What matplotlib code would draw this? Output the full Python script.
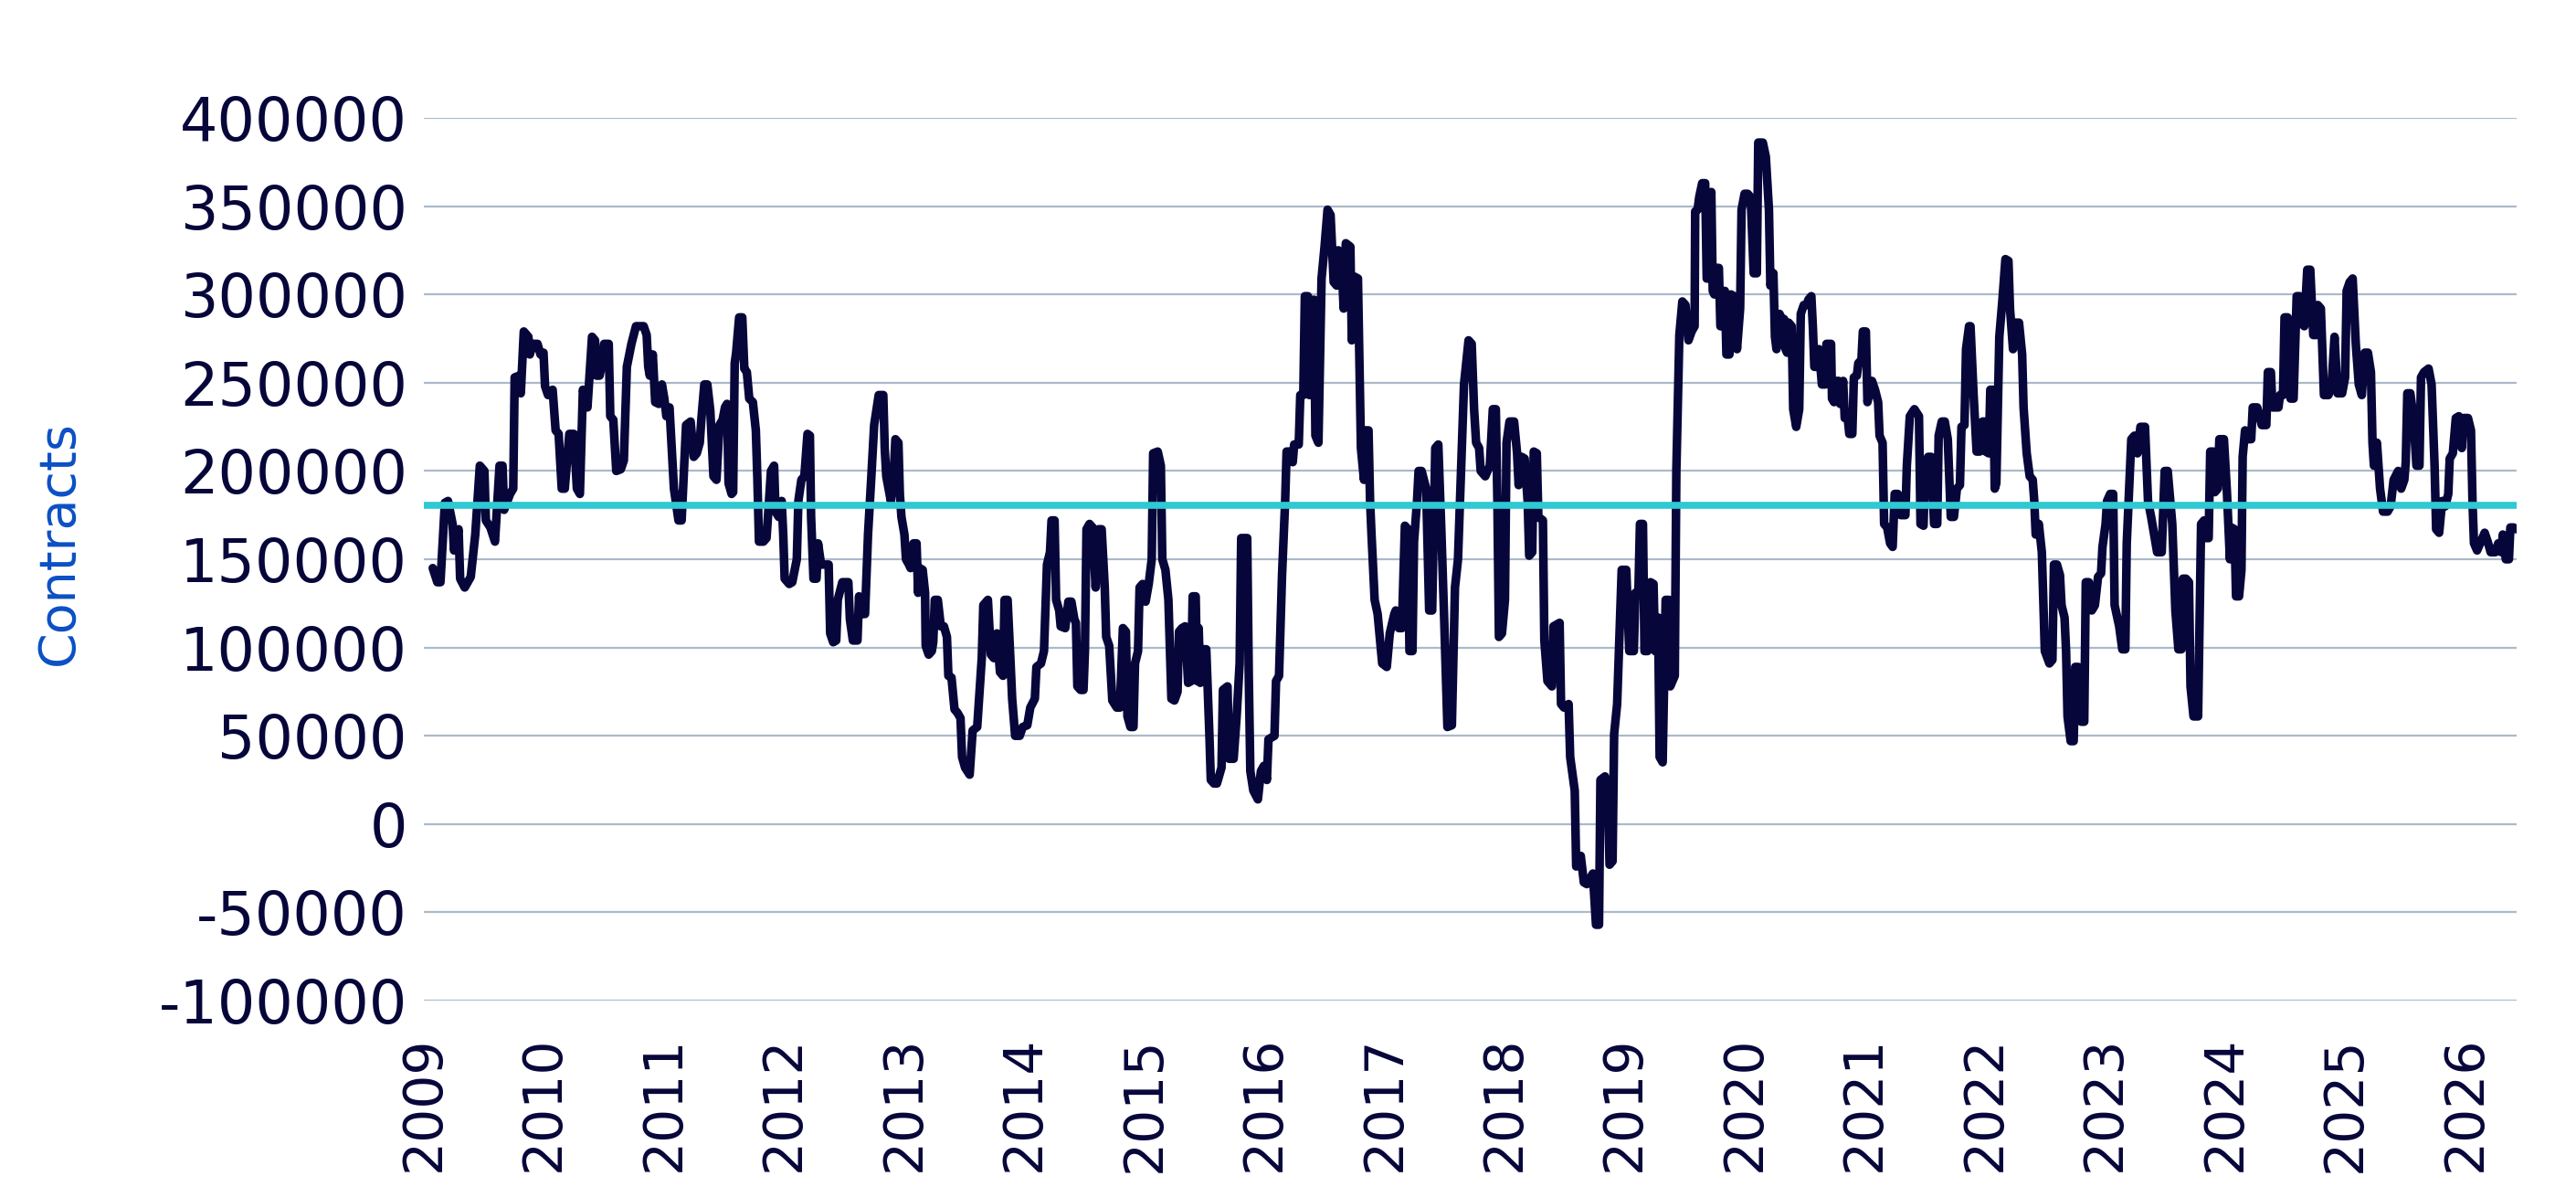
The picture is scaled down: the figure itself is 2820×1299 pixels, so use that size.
import numpy as np
import matplotlib
matplotlib.use("Agg")
import matplotlib.pyplot as plt
from matplotlib.ticker import FuncFormatter

# weekly net positioning (decimal year, thousands of contracts)
week = [
    2009.075, 2009.113, 2009.139, 2009.176, 2009.202, 2009.240, 2009.252, 2009.290, 2009.303, 2009.341,
    2009.391, 2009.429, 2009.467, 2009.505, 2009.517, 2009.555, 2009.593, 2009.631, 2009.656, 2009.669,
    2009.719, 2009.745, 2009.757, 2009.795, 2009.808, 2009.833, 2009.871, 2009.883, 2009.909, 2009.947,
    2009.972, 2009.997, 2010.010, 2010.035, 2010.073, 2010.098, 2010.123, 2010.149, 2010.174, 2010.212,
    2010.250, 2010.275, 2010.300, 2010.325, 2010.363, 2010.401, 2010.426, 2010.439, 2010.464, 2010.489,
    2010.502, 2010.540, 2010.553, 2010.578, 2010.603, 2010.641, 2010.666, 2010.691, 2010.729, 2010.767,
    # 2010 Q4 - 2012 H1
    2010.793, 2010.831, 2010.856, 2010.869, 2010.882, 2010.907, 2010.927, 2010.957, 2010.983, 2011.003,
    2011.020, 2011.046, 2011.083, 2011.121, 2011.147, 2011.184, 2011.222, 2011.248, 2011.273, 2011.298,
    2011.311, 2011.336, 2011.361, 2011.386, 2011.412, 2011.437, 2011.462, 2011.488, 2011.508, 2011.525,
    2011.538, 2011.563, 2011.576, 2011.589, 2011.601, 2011.626, 2011.652, 2011.669, 2011.690, 2011.710,
    2011.740, 2011.765, 2011.778, 2011.791, 2011.828, 2011.854, 2011.891, 2011.917, 2011.929, 2011.955,
    2011.980, 2011.993, 2012.005, 2012.043, 2012.068, 2012.106, 2012.119, 2012.144, 2012.169, 2012.195,
    2012.215, 2012.225, 2012.245, 2012.270, 2012.283, 2012.308, 2012.371, 2012.384, 2012.409, 2012.434,
    2012.447, 2012.485, 2012.510,
    # 2012 H2 - 2014 Q1
    2012.535, 2012.548, 2012.573, 2012.611, 2012.624, 2012.649, 2012.674, 2012.699, 2012.725, 2012.750,
    2012.788, 2012.826, 2012.838, 2012.851, 2012.889, 2012.914, 2012.927, 2012.952, 2012.964, 2012.977,
    2013.002, 2013.015, 2013.040, 2013.053, 2013.078, 2013.103, 2013.116, 2013.129, 2013.154, 2013.174,
    2013.179, 2013.204, 2013.230, 2013.242, 2013.255, 2013.280, 2013.305, 2013.331, 2013.356, 2013.368,
    2013.394, 2013.419, 2013.444, 2013.469, 2013.482, 2013.507, 2013.545, 2013.570, 2013.608, 2013.646,
    2013.659, 2013.697, 2013.722, 2013.747, 2013.772, 2013.798, 2013.823, 2013.836, 2013.861, 2013.886,
    2013.899, 2013.924, 2013.962, 2013.987, 2014.025, 2014.050, 2014.088, 2014.101, 2014.139, 2014.164,
    2014.189, 2014.214, 2014.227, 2014.252,
    # 2014 Q2 - 2015
    2014.265, 2014.291, 2014.303, 2014.341, 2014.367, 2014.392, 2014.417, 2014.430, 2014.442, 2014.468,
    2014.493, 2014.505, 2014.518, 2014.543, 2014.569, 2014.594, 2014.619, 2014.644, 2014.657, 2014.670,
    2014.682, 2014.707, 2014.733, 2014.770, 2014.796, 2014.821, 2014.846, 2014.859, 2014.884, 2014.909,
    2014.922, 2014.947, 2014.960, 2014.985, 2015.010, 2015.036, 2015.061, 2015.073, 2015.111, 2015.137,
    2015.149, 2015.175, 2015.200, 2015.225, 2015.250, 2015.276, 2015.288, 2015.313, 2015.339, 2015.364,
    2015.389, 2015.402, 2015.427, 2015.440, 2015.452, 2015.465, 2015.490, 2015.515, 2015.541, 2015.553,
    2015.579, 2015.604, 2015.642, 2015.654, 2015.692, 2015.705, 2015.743, 2015.768, 2015.793, 2015.806,
    2015.856, 2015.869, 2015.882, 2015.907, 2015.945, 2015.970, 2015.995,
    # 2016 - 2017
    2016.020, 2016.033, 2016.083, 2016.096, 2016.121, 2016.146, 2016.172, 2016.184, 2016.210, 2016.235,
    2016.247, 2016.285, 2016.298, 2016.323, 2016.336, 2016.361, 2016.374, 2016.399, 2016.412, 2016.424,
    2016.449, 2016.475, 2016.500, 2016.525, 2016.550, 2016.576, 2016.601, 2016.614, 2016.639, 2016.659,
    2016.677, 2016.715, 2016.727, 2016.752, 2016.778, 2016.803, 2016.828, 2016.841, 2016.866, 2016.879,
    2016.891, 2016.917, 2016.942, 2016.980, 2017.018, 2017.043, 2017.081, 2017.093, 2017.119, 2017.144,
    2017.169, 2017.194, 2017.207, 2017.232, 2017.245, 2017.270, 2017.283, 2017.308, 2017.346, 2017.371,
    2017.396, 2017.422, 2017.447, 2017.472, 2017.497, 2017.523, 2017.560, 2017.586, 2017.611, 2017.636,
    2017.661, 2017.699, 2017.725,
    # 2017 Q4 - 2019 H1
    2017.745, 2017.762, 2017.787, 2017.800, 2017.838, 2017.876, 2017.901, 2017.926, 2017.939, 2017.952,
    2017.977, 2018.002, 2018.015, 2018.040, 2018.078, 2018.103, 2018.116, 2018.141, 2018.166, 2018.191,
    2018.204, 2018.229, 2018.242, 2018.267, 2018.280, 2018.318, 2018.330, 2018.356, 2018.393, 2018.406,
    2018.457, 2018.469, 2018.494, 2018.532, 2018.545, 2018.583, 2018.595, 2018.633, 2018.659, 2018.684,
    2018.734, 2018.760, 2018.785, 2018.797, 2018.835, 2018.861, 2018.873, 2018.898, 2018.911, 2018.936,
    2018.974, 2019.012, 2019.037, 2019.075, 2019.088, 2019.113, 2019.126, 2019.151, 2019.164, 2019.189,
    2019.214, 2019.239, 2019.252, 2019.277, 2019.290, 2019.315, 2019.340, 2019.366, 2019.378, 2019.416,
    2019.429, 2019.454, 2019.479,
    # 2019 H2 - 2021 Q1
    2019.505, 2019.530, 2019.556, 2019.581, 2019.586, 2019.606, 2019.619, 2019.644, 2019.669, 2019.682,
    2019.694, 2019.720, 2019.732, 2019.745, 2019.758, 2019.783, 2019.796, 2019.821, 2019.833, 2019.846,
    2019.871, 2019.884, 2019.909, 2019.934, 2019.960, 2019.972, 2019.997, 2020.023, 2020.048, 2020.073,
    2020.099, 2020.111, 2020.149, 2020.174, 2020.200, 2020.212, 2020.237, 2020.250, 2020.263, 2020.288,
    2020.300, 2020.326, 2020.338, 2020.351, 2020.364, 2020.389, 2020.402, 2020.427, 2020.452, 2020.465,
    2020.490, 2020.515, 2020.528, 2020.553, 2020.566, 2020.578, 2020.604, 2020.616, 2020.641, 2020.667,
    2020.679, 2020.717, 2020.725, 2020.742, 2020.755, 2020.780, 2020.793, 2020.818, 2020.831, 2020.856,
    2020.869, 2020.894, 2020.907, 2020.932, 2020.944, 2020.970, 2020.982, 2021.007, 2021.020, 2021.058,
    2021.083, 2021.109, 2021.121, 2021.146, 2021.159, 2021.184, 2021.209, 2021.230,
    # 2021 Q2 - 2022
    2021.247, 2021.272, 2021.298, 2021.336, 2021.348, 2021.373, 2021.411, 2021.449, 2021.462, 2021.487,
    2021.500, 2021.525, 2021.550, 2021.575, 2021.601, 2021.613, 2021.639, 2021.664, 2021.689, 2021.714,
    2021.740, 2021.765, 2021.790, 2021.803, 2021.828, 2021.841, 2021.866, 2021.878, 2021.904, 2021.929,
    2021.954, 2021.979, 2021.992, 2022.005, 2022.030, 2022.043, 2022.068, 2022.080, 2022.093, 2022.118,
    2022.144, 2022.169, 2022.194, 2022.207, 2022.232, 2022.245, 2022.282, 2022.308, 2022.320, 2022.346,
    2022.371, 2022.396, 2022.409, 2022.421, 2022.447, 2022.472, 2022.497, 2022.535, 2022.560, 2022.573,
    2022.598, 2022.623, 2022.636, 2022.661, 2022.674, 2022.686, 2022.712, 2022.737, 2022.750, 2022.775,
    2022.800, 2022.825, 2022.838, 2022.863, 2022.888, 2022.914,
    # 2023 - 2024 Q3
    2022.940, 2022.965, 2022.977, 2023.003, 2023.015, 2023.041, 2023.066, 2023.078, 2023.116, 2023.142,
    2023.167, 2023.179, 2023.205, 2023.217, 2023.243, 2023.268, 2023.293, 2023.331, 2023.356, 2023.382,
    2023.407, 2023.432, 2023.470, 2023.495, 2023.520, 2023.558, 2023.584, 2023.609, 2023.634, 2023.647,
    2023.672, 2023.697, 2023.710, 2023.735, 2023.773, 2023.798, 2023.823, 2023.836, 2023.861, 2023.874,
    2023.899, 2023.912, 2023.937, 2023.950, 2023.988, 2024.013, 2024.038, 2024.051, 2024.076, 2024.089,
    2024.114, 2024.134, 2024.144, 2024.164, 2024.190, 2024.215, 2024.228, 2024.265, 2024.303, 2024.341,
    2024.354, 2024.379, 2024.392, 2024.442, 2024.455, 2024.480, 2024.493, 2024.518, 2024.543, 2024.568,
    2024.594, 2024.619, 2024.631, 2024.657, 2024.682, 2024.707,
    # 2024 Q4 - 2026
    2024.732, 2024.757, 2024.770, 2024.795, 2024.821, 2024.858, 2024.884, 2024.909, 2024.934, 2024.972,
    2024.997, 2025.010, 2025.035, 2025.060, 2025.086, 2025.111, 2025.136, 2025.161, 2025.187, 2025.212,
    2025.225, 2025.237, 2025.262, 2025.288, 2025.313, 2025.351, 2025.376, 2025.401, 2025.439, 2025.464,
    2025.490, 2025.502, 2025.515, 2025.540, 2025.565, 2025.591, 2025.616, 2025.629, 2025.654, 2025.692,
    2025.717, 2025.742, 2025.755, 2025.780, 2025.805, 2025.831, 2025.856, 2025.868, 2025.894, 2025.919,
    2025.944, 2025.969, 2025.982, 2026.020, 2026.045, 2026.058, 2026.070, 2026.096, 2026.121, 2026.159,
    2026.184, 2026.209, 2026.247, 2026.272, 2026.298, 2026.310, 2026.335, 2026.361, 2026.373, 2026.399,
    2026.424,
]

net_k = [
    145, 137, 137, 182, 183, 170, 155, 167, 139, 134,
    140, 164, 203, 200, 172, 168, 160, 203, 203, 178,
    187, 190, 253, 254, 244, 279, 276, 266, 272, 272,
    266, 267, 248, 243, 246, 223, 221, 190, 190, 221,
    221, 190, 187, 246, 236, 276, 274, 254, 254, 262,
    272, 272, 231, 229, 200, 201, 206, 259, 272, 282,
    # 2010 Q4 - 2012 H1
    282, 282, 277, 259, 254, 266, 239, 238, 249, 241,
    231, 236, 190, 172, 172, 226, 228, 208, 210, 216,
    229, 249, 249, 234, 197, 195, 226, 229, 236, 238,
    193, 187, 188, 261, 267, 287, 287, 258, 256, 241,
    239, 223, 195, 160, 160, 162, 200, 203, 177, 174,
    183, 164, 139, 136, 137, 150, 183, 195, 197, 221,
    220, 174, 139, 139, 159, 147, 147, 108, 103, 104,
    127, 137, 137,
    # 2012 H2 - 2014 Q1
    137, 116, 104, 104, 129, 119, 119, 164, 195, 226,
    243, 243, 213, 197, 183, 200, 218, 216, 187, 174,
    164, 150, 147, 145, 159, 159, 131, 145, 144, 131,
    101, 96, 98, 103, 127, 127, 112, 112, 106, 84,
    83, 65, 63, 60, 38, 32, 28, 53, 55, 94,
    124, 127, 96, 94, 108, 86, 84, 127, 127, 91,
    71, 50, 50, 55, 56, 66, 71, 89, 91, 98,
    147, 154, 172, 172,
    # 2014 Q2 - 2015
    127, 121, 112, 111, 126, 126, 116, 114, 78, 76,
    76, 98, 167, 170, 168, 134, 167, 167, 150, 134,
    106, 101, 70, 66, 66, 111, 109, 61, 55, 55,
    91, 98, 134, 136, 126, 136, 150, 210, 211, 203,
    150, 144, 127, 71, 70, 75, 109, 111, 112, 80,
    81, 129, 129, 81, 111, 80, 99, 99, 51, 25,
    23, 23, 32, 76, 78, 37, 37, 61, 91, 162,
    162, 84, 30, 19, 14, 30, 33,
    # 2016 - 2017
    25, 48, 50, 81, 84, 141, 183, 211, 211, 205,
    215, 215, 243, 243, 299, 299, 243, 296, 297, 220,
    216, 309, 327, 348, 345, 307, 305, 325, 322, 292,
    329, 327, 274, 310, 309, 213, 195, 223, 223, 183,
    164, 127, 119, 91, 89, 108, 119, 121, 111, 111,
    169, 167, 98, 98, 160, 183, 200, 200, 190, 121,
    121, 213, 215, 167, 114, 55, 56, 134, 150, 200,
    249, 274, 272,
    # 2017 Q4 - 2019 H1
    235, 216, 213, 200, 197, 203, 235, 235, 183, 106,
    108, 127, 216, 228, 228, 210, 192, 208, 207, 183,
    152, 154, 211, 210, 174, 172, 104, 81, 78, 112,
    114, 68, 66, 68, 38, 19, -24, -18, -33, -34,
    -28, -57, -57, 25, 27, 10, -23, -21, 51, 68,
    144, 144, 98, 98, 131, 131, 170, 170, 98, 98,
    137, 136, 98, 117, 38, 35, 127, 127, 78, 84,
    200, 277, 296,
    # 2019 H2 - 2021 Q1
    294, 274, 279, 282, 347, 348, 355, 363, 363, 309,
    309, 358, 302, 300, 315, 315, 282, 282, 302, 266,
    266, 300, 299, 269, 292, 348, 357, 357, 355, 312,
    312, 386, 386, 378, 348, 305, 312, 276, 269, 289,
    287, 286, 269, 267, 284, 282, 235, 225, 235, 289,
    294, 294, 297, 299, 281, 259, 259, 269, 249, 249,
    272, 272, 241, 239, 251, 251, 238, 251, 230, 230,
    221, 221, 253, 254, 261, 263, 279, 279, 239, 251,
    246, 239, 220, 216, 170, 168, 159, 157,
    # 2021 Q2 - 2022
    187, 187, 175, 175, 203, 231, 235, 231, 170, 169,
    200, 208, 208, 170, 170, 220, 228, 228, 218, 174,
    174, 190, 192, 225, 226, 269, 282, 282, 243, 211,
    211, 228, 228, 211, 210, 246, 246, 190, 193, 276,
    297, 320, 319, 292, 269, 284, 284, 266, 236, 210,
    197, 195, 183, 164, 170, 154, 98, 91, 93, 147,
    147, 141, 124, 117, 98, 61, 47, 47, 89, 89,
    58, 58, 137, 137, 121, 124,
    # 2023 - 2024 Q3
    140, 142, 157, 170, 183, 187, 187, 124, 112, 99,
    99, 159, 200, 218, 220, 210, 225, 225, 183, 174,
    164, 154, 154, 200, 200, 170, 121, 99, 99, 139,
    139, 137, 78, 61, 61, 170, 172, 162, 162, 211,
    211, 188, 190, 218, 218, 188, 150, 168, 167, 129,
    129, 144, 208, 223, 218, 218, 236, 236, 226, 226,
    256, 256, 236, 236, 243, 243, 287, 287, 241, 241,
    299, 299, 284, 282, 314, 314,
    # 2024 Q4 - 2026
    277, 277, 294, 292, 243, 243, 248, 276, 244, 244,
    253, 302, 307, 309, 272, 249, 243, 267, 267, 256,
    216, 203, 216, 190, 177, 177, 180, 195, 200, 190,
    195, 205, 244, 244, 231, 203, 203, 253, 256, 258,
    249, 203, 167, 165, 183, 180, 187, 207, 210, 230,
    231, 213, 230, 230, 223, 182, 159, 155, 159, 165,
    160, 154, 154, 159, 154, 164, 150, 150, 168, 168,
    167,
]

avg_level = 180500  # long-run average (cyan line)

years = list(range(2009, 2027))
y_ticks = list(range(-100000, 400001, 50000))

navy = '#07063a'
cyan = '#2ec9d2'
grid_col = '#abbac9'
label_blue = '#0b4fc4'

plt.rcParams['font.family'] = ['DejaVu Sans']

fig = plt.figure(figsize=(28.2, 12.99), dpi=100)
ax = fig.add_axes([0.1645, 0.157, 0.8124, 0.7437])

t = np.array(week)
net = np.array(net_k) * 1000.0

ax.plot(t, net, color=navy, lw=6.8, solid_joinstyle='round', solid_capstyle='round', zorder=3)
ax.plot([2009.0, 2026.5], [avg_level, avg_level], color=cyan, lw=5.5, zorder=4)

ax.set_xlim(2009.068, 2026.424)
ax.set_ylim(-100000, 400000)

ax.set_yticks(y_ticks)
ax.yaxis.set_major_formatter(FuncFormatter(lambda v, p: '%d' % v))
ax.set_xticks(years)
ax.set_xticklabels([str(y) for y in years], rotation=90)

ax.yaxis.grid(True, color=grid_col, lw=1.6)
ax.set_axisbelow(True)
for s in ax.spines.values():
    s.set_visible(False)
ax.tick_params(axis='both', length=0, colors=navy)
ax.tick_params(axis='y', labelsize=47, pad=13)
ax.tick_params(axis='x', labelsize=42, pad=28)

fig.text(65 / 2820, 1 - 594 / 1299, 'Contracts', rotation=90, fontsize=40,
         color=label_blue, ha='center', va='center')

fig.savefig('out.png', dpi=100, facecolor='white')
